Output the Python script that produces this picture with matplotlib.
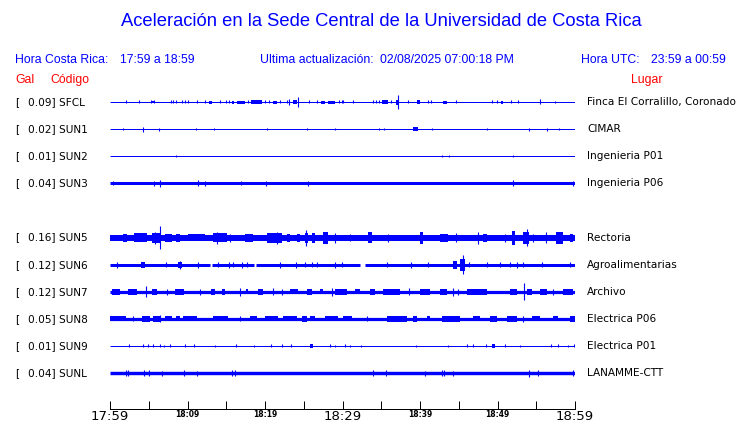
import numpy as np
import matplotlib
matplotlib.use("Agg")
import matplotlib.pyplot as plt

# station table
codes = ["SFCL", "SUN1", "SUN2", "SUN3", "SUN5", "SUN6", "SUN7", "SUN8", "SUN9", "SUNL"]
gal = ["0.09", "0.02", "0.01", "0.04", "0.16", "0.12", "0.12", "0.05", "0.01", "0.04"]
places = ["Finca El Corralillo, Coronado", "CIMAR", "Ingenieria P01", "Ingenieria P06",
          "Rectoria", "Agroalimentarias", "Archivo", "Electrica P06", "Electrica P01",
          "LANAMME-CTT"]
rows = [0, 1, 2, 3, 5, 6, 7, 8, 9, 10]

# background noise half-amplitude of each trace
base_amp = [0.5, 0.5, 0.5, 1.5, 3.0, 1.5, 1.6, 1.6, 0.5, 1.7]

# (minute, half-amplitude) spikes and (start, end, half-amplitude) bursts
spikes_sfcl = [(2.0, 1.5), (3.7, 1.5), (5.3, 1.5), (5.7, 1.5), (7.9, 1.5), (8.1, 1.5), (8.5, 1.5),
               (9.3, 1.5), (9.7, 1.5), (10.1, 1.5), (11.2, 1.5), (12.3, 1.5), (14.2, 1.5),
               (15.0, 1.5), (15.4, 1.5), (17.8, 1.5), (20.0, 1.5), (20.5, 1.5), (21.9, 1.5),
               (22.8, 1.5), (23.1, 3.3), (24.3, 5.0), (25.7, 1.5), (26.7, 1.5), (29.5, 1.5),
               (29.9, 1.5), (30.0, 1.5), (31.3, 1.5), (33.9, 1.5), (34.3, 1.5), (34.7, 1.5),
               (36.3, 1.5), (37.1, 6.7), (38.5, 1.5), (41.0, 1.5), (41.4, 1.5), (44.6, 1.5),
               (49.3, 1.5), (49.9, 1.5), (51.7, 1.5), (52.6, 1.5), (55.5, 2.5), (57.4, 1.2)]
bursts_sfcl = [(5.3, 5.7, 1.2), (12.8, 13.2, 1.5), (15.7, 16.0, 1.5), (16.4, 17.4, 1.5),
               (18.2, 19.6, 2.0), (21.0, 21.5, 1.5), (23.6, 24.1, 1.8), (27.2, 27.7, 1.5),
               (28.1, 29.0, 1.5), (35.1, 35.9, 2.2), (36.9, 37.3, 2.5), (39.6, 40.0, 2.0),
               (43.0, 43.5, 1.5), (50.5, 50.7, 1.5)]

spikes_sun1 = [(1.7, 1.2), (4.2, 2.5), (6.3, 1.5), (11.1, 1.2), (13.4, 1.2), (20.3, 1.2),
               (25.4, 1.2), (29.0, 1.2), (34.7, 1.2), (35.4, 1.2), (41.5, 1.2), (48.6, 1.2),
               (54.1, 1.5), (56.4, 1.5), (57.9, 1.2)]
bursts_sun1 = [(39.1, 39.7, 2.0)]

spikes_sun2 = [(8.5, 1.2), (42.8, 1.2), (43.7, 1.2), (52.0, 1.2)]
bursts_sun2 = []

spikes_sun3 = [(0.4, 2.0), (5.7, 2.5), (6.4, 3.7), (11.4, 3.0), (12.3, 2.5), (16.9, 2.2),
               (20.1, 2.7), (25.5, 2.7), (52.0, 3.0), (59.7, 2.5)]
bursts_sun3 = []

spikes_sun5 = [(5.8, 6.0), (6.4, 11.7), (13.8, 6.0), (15.5, 4.0), (21.5, 6.0), (25.3, 8.0),
               (29.0, 5.0), (31.0, 3.5), (35.9, 4.0), (44.7, 4.5), (47.5, 6.0), (51.0, 4.0),
               (53.8, 8.8), (54.6, 4.0), (56.2, 5.5)]
bursts_sun5 = [(1.7, 2.2, 4.0), (3.1, 4.8, 4.5), (5.4, 6.5, 5.0), (7.1, 8.0, 4.0), (8.5, 9.0, 4.0),
               (10.1, 12.3, 3.8), (13.3, 15.1, 4.5), (17.4, 18.5, 4.0), (20.3, 22.2, 5.0),
               (22.8, 23.2, 4.0), (24.1, 24.5, 4.0), (25.1, 25.5, 5.0), (26.1, 26.5, 5.0),
               (27.5, 28.1, 6.0), (33.3, 33.8, 5.5), (40.0, 40.4, 6.0), (42.6, 43.6, 4.0),
               (48.1, 48.6, 4.0), (51.9, 52.3, 7.0), (53.3, 54.1, 6.0), (57.5, 58.5, 6.0),
               (59.4, 59.7, 4.0)]

spikes_sun6 = [(0.9, 3.0), (7.2, 2.5), (9.0, 4.0), (11.4, 3.0), (13.9, 2.5), (15.4, 3.0),
               (15.9, 2.5), (17.0, 3.0), (17.7, 2.5), (21.9, 3.0), (24.0, 3.0), (25.2, 2.5),
               (26.0, 2.5), (26.7, 2.5), (29.0, 3.0), (29.9, 2.5), (35.7, 2.5), (38.8, 3.0),
               (41.0, 2.5), (45.5, 9.7), (46.3, 2.5), (48.6, 2.5), (50.3, 2.5), (51.6, 2.5),
               (52.5, 3.0), (53.3, 2.5), (55.7, 2.5), (59.4, 2.5)]
bursts_sun6 = [(4.0, 4.5, 3.0), (8.8, 9.3, 3.0), (44.3, 44.8, 4.0), (45.2, 45.8, 6.0)]
gaps_sun6 = [(12.9, 13.1), (18.6, 18.8), (32.3, 32.9)]

spikes_sun7 = [(4.7, 5.5), (7.3, 3.0), (11.6, 3.0), (16.8, 4.0), (21.0, 3.5), (22.2, 3.0),
               (28.6, 4.0), (38.6, 3.5), (44.3, 4.0), (44.9, 3.0), (53.4, 8.3), (57.2, 3.0)]
bursts_sun7 = [(0.3, 1.3, 3.0), (2.3, 3.5, 3.0), (5.4, 6.1, 3.0), (8.4, 9.5, 3.0),
               (13.0, 13.5, 3.0), (14.5, 14.8, 3.0), (17.5, 17.8, 2.5), (19.1, 19.7, 3.0),
               (23.2, 24.3, 2.5), (25.4, 26.1, 3.0), (27.1, 27.5, 2.5), (29.0, 30.6, 3.0),
               (31.6, 32.3, 2.5), (33.5, 34.2, 3.0), (35.2, 37.4, 3.0), (40.0, 41.3, 3.0),
               (42.6, 43.5, 3.0), (46.1, 48.6, 3.0), (51.6, 52.5, 3.0), (53.8, 54.4, 3.0),
               (55.5, 56.4, 3.0), (58.5, 59.7, 3.0)]

spikes_sun8 = [(3.0, 2.5), (6.5, 3.5), (16.8, 2.5), (33.1, 2.5), (53.3, 3.0)]
bursts_sun8 = [(0.0, 2.0, 2.5), (4.1, 5.2, 3.0), (5.6, 6.5, 3.0), (7.1, 8.0, 2.5),
               (8.5, 9.0, 2.5), (9.4, 11.2, 2.5), (13.3, 15.2, 2.5), (18.1, 19.0, 2.5),
               (20.0, 21.7, 2.5), (22.3, 24.1, 2.5), (24.8, 25.4, 3.0), (25.8, 26.5, 2.5),
               (27.7, 29.4, 2.5), (30.1, 31.2, 2.5), (35.7, 38.3, 3.0), (39.1, 39.6, 3.0),
               (40.9, 41.3, 2.5), (42.9, 45.2, 3.0), (46.8, 47.7, 2.5), (49.0, 49.9, 3.0),
               (51.2, 52.5, 3.0), (54.4, 55.5, 2.5), (57.2, 57.8, 2.5), (59.4, 60.0, 3.0)]

spikes_sun9 = [(2.5, 1.5), (4.2, 1.5), (4.9, 1.5), (5.5, 1.5), (6.4, 1.5), (7.0, 1.2),
               (7.7, 1.5), (9.7, 1.5), (10.8, 1.5), (13.5, 1.2), (16.3, 1.5), (18.6, 1.2),
               (20.8, 1.5), (22.2, 1.5), (23.4, 1.5), (28.4, 1.5), (29.0, 1.2), (30.3, 1.5),
               (31.0, 1.2), (32.4, 1.2), (39.5, 1.2), (43.6, 1.2), (46.1, 1.5), (46.9, 1.5),
               (48.5, 1.5), (51.0, 1.5), (52.9, 1.2), (56.9, 1.5), (57.8, 1.5), (59.1, 1.2),
               (59.9, 1.5)]
bursts_sun9 = [(25.8, 26.2, 1.8), (49.3, 49.7, 2.0)]

spikes_sunl = [(2.1, 3.0), (2.3, 3.0), (4.4, 3.0), (5.0, 3.0), (6.7, 2.5), (9.6, 3.0),
               (11.2, 2.5), (15.7, 3.0), (16.1, 3.0), (33.9, 3.0), (35.6, 3.0), (40.6, 2.5),
               (42.8, 3.0), (43.1, 3.0), (44.3, 2.5), (54.1, 3.5), (55.2, 3.0), (59.8, 3.0)]
bursts_sunl = []

spikes = [spikes_sfcl, spikes_sun1, spikes_sun2, spikes_sun3, spikes_sun5,
          spikes_sun6, spikes_sun7, spikes_sun8, spikes_sun9, spikes_sunl]
bursts = [bursts_sfcl, bursts_sun1, bursts_sun2, bursts_sun3, bursts_sun5,
          bursts_sun6, bursts_sun7, bursts_sun8, bursts_sun9, bursts_sunl]
gaps = {5: gaps_sun6}

tick_minutes = list(range(0, 61, 5))
tick_text = {0: "17:59", 10: "18:09", 20: "18:19", 30: "18:29",
             40: "18:39", 50: "18:49", 60: "18:59"}
big_ticks = [0, 30, 60]

BLUE = "#0000ff"
W, H = 740, 423
px = 72 / 100  # points per pixel

fig = plt.figure(figsize=(W / 100, H / 100), dpi=100)
fig.patch.set_facecolor("white")

# traces axis, y in pixel rows
ax = fig.add_axes([110 / W, 1 - 409 / H, 465 / W, (409 - 88) / H])
ax.set_xlim(0, 60)
ax.set_ylim(409, 88)
for s in ["top", "left", "right"]:
    ax.spines[s].set_visible(False)
ax.spines["bottom"].set_linewidth(1.0 * px)
ax.set_yticks([])

row_y = lambda r: 102 + 27.1 * r

for i, code in enumerate(codes):
    y = row_y(rows[i])
    b = base_amp[i]
    # base line, split around gaps
    segs = [0.0]
    for g0, g1 in gaps.get(i, []):
        segs += [g0, g1]
    segs.append(60.0)
    for k in range(0, len(segs), 2):
        ax.hlines(y, segs[k], segs[k + 1], color=BLUE, linewidth=max(2 * b, 1.0) * px,
                  capstyle="butt")
    for m0, m1, a in bursts[i]:
        ax.fill_between([m0, m1], y - a, y + a, color=BLUE, linewidth=0)
    for m, a in spikes[i]:
        ax.vlines(m, y - a, y + a, color=BLUE, linewidth=1.1 * px)

    fig.text(15 / W, 1 - y / H, "[", fontsize=7.6, color="black", va="center",
             family="DejaVu Sans")
    fig.text(27.5 / W, 1 - y / H, gal[i] + "] " + code, fontsize=7.6, color="black",
             va="center", family="DejaVu Sans")
    fig.text(587 / W, 1 - y / H, places[i], fontsize=7.6, color="black", va="center",
             family="DejaVu Sans")

ax.set_xticks(tick_minutes)
ax.set_xticklabels([tick_text.get(t, "") for t in tick_minutes])
ax.tick_params(axis="x", direction="in", length=8 * px, width=1.0 * px, pad=0.5, colors="black")
for t, lab in zip(tick_minutes, ax.get_xticklabels()):
    if t in big_ticks:
        lab.set_fontsize(9.5)
    else:
        lab.set_fontsize(5.5)
        lab.set_fontweight("bold")

# header
hfont = "Liberation Sans"
fig.text(381 / W, 1 - 22 / H, "Aceleración en la Sede Central de la Universidad de Costa Rica",
         fontsize=13.2, color=BLUE, ha="center", va="center", family=hfont)
yi = 1 - 60 / H
header_bits = [(15, "Hora Costa Rica:"), (120, "17:59 a 18:59"),
               (260, "Ultima actualización:"), (380, "02/08/2025 07:00:18 PM"),
               (581, "Hora UTC:"), (651, "23:59 a 00:59")]
for x0, s in header_bits:
    fig.text(x0 / W, yi, s, fontsize=8.8, color=BLUE, va="center", family=hfont)
yr = 1 - 80 / H
for x0, s in [(15, "Gal"), (50, "Código"), (631, "Lugar")]:
    fig.text(x0 / W, yr, s, fontsize=8.8, color="red", va="center", family=hfont)

fig.savefig("out.png", dpi=100, facecolor="white")
